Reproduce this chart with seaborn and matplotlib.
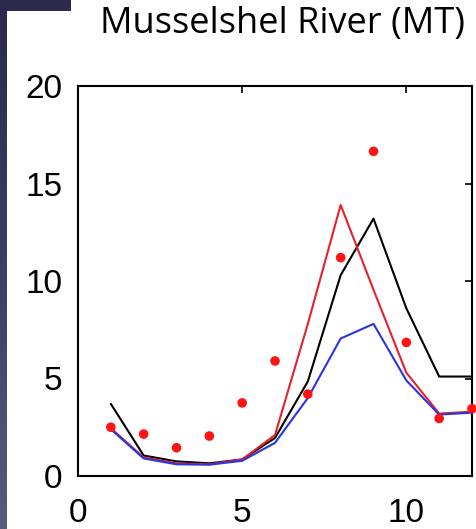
import numpy as np
import pandas as pd
import matplotlib
matplotlib.use("Agg")
import matplotlib.pyplot as plt
from matplotlib.colors import LinearSegmentedColormap
import seaborn as sns

# Monthly streamflow, Musselshel River (MT)
months = [1, 2, 3, 4, 5, 6, 7, 8, 9, 10, 11, 12]
observed = [2.5, 2.15, 1.45, 2.05, 3.75, 5.9, 4.2, 11.2, 16.65, 6.85, 2.95, 3.45]
model_black = [3.7, 1.05, 0.75, 0.65, 0.85, 1.95, 4.85, 10.3, 13.2, 8.6, 5.1, 5.1]
model_red = [2.45, 0.95, 0.65, 0.6, 0.85, 2.1, 7.8, 13.9, 9.55, 5.3, 3.2, 3.3]
model_blue = [2.4, 0.9, 0.6, 0.58, 0.78, 1.7, 4.0, 7.05, 7.8, 4.9, 3.15, 3.25]

xticks = [0, 5, 10]
yticks = [0, 5, 10, 15, 20]

sns.set_theme(style="white")
plt.rcParams["font.family"] = ["Liberation Sans", "DejaVu Sans"]

W, H = 476, 529
fig = plt.figure(figsize=(W / 100, H / 100), dpi=100)
fig.patch.set_facecolor("white")

# slide decoration: vertical navy strip and top-left bar
strip = fig.add_axes([0, 0, 7 / W, 1])
grad = np.linspace(0, 1, 256).reshape(-1, 1)
cmap = LinearSegmentedColormap.from_list("strip", ["#2c294b", "#3d3e62", "#585d7c"])
strip.imshow(grad, aspect="auto", cmap=cmap, extent=[0, 1, 0, 1], origin="upper")
strip.set_axis_off()
bar = fig.add_axes([0, 1 - 11 / H, 71 / W, 11 / H])
bar.set_facecolor("#2c294b")
bar.set_xticks([]); bar.set_yticks([])
for s in bar.spines.values():
    s.set_visible(False)

ax = fig.add_axes([78 / W, (H - 476) / H, (472 - 78) / W, (476 - 86) / H])
ax.set_facecolor("white")

df = pd.DataFrame({"month": months, "obs": observed, "black": model_black,
                   "red": model_red, "blue": model_blue})

sns.lineplot(data=df, x="month", y="black", color="black", lw=1.5, ax=ax)
sns.lineplot(data=df, x="month", y="red", color="#e8202a", lw=1.5, ax=ax)
sns.lineplot(data=df, x="month", y="blue", color="#2a34e6", lw=1.5, ax=ax)
sns.scatterplot(data=df, x="month", y="obs", color="#ff1414", s=48,
                edgecolor="none", ax=ax, clip_on=False, zorder=5)

ax.set_xlim(0, 12)
ax.set_ylim(0, 20)
ax.set_xticks(xticks)
ax.set_yticks(yticks)
ax.set_xlabel("")
ax.set_ylabel("")
ax.tick_params(direction="in", length=5, width=1.2, color="black",
               top=True, right=True, labelsize=24, labelcolor="black")
ax.tick_params(axis="y", pad=11)
ax.tick_params(axis="x", pad=16)
for s in ax.spines.values():
    s.set_visible(True)
    s.set_color("black")
    s.set_linewidth(1.5)

fig.text(283 / W, 1 - 33 / H, "Musselshel River (MT)", ha="center",
         va="baseline", fontsize=26, family=["Open Sans", "DejaVu Sans"], color="black")

fig.savefig("out.png", dpi=100)
